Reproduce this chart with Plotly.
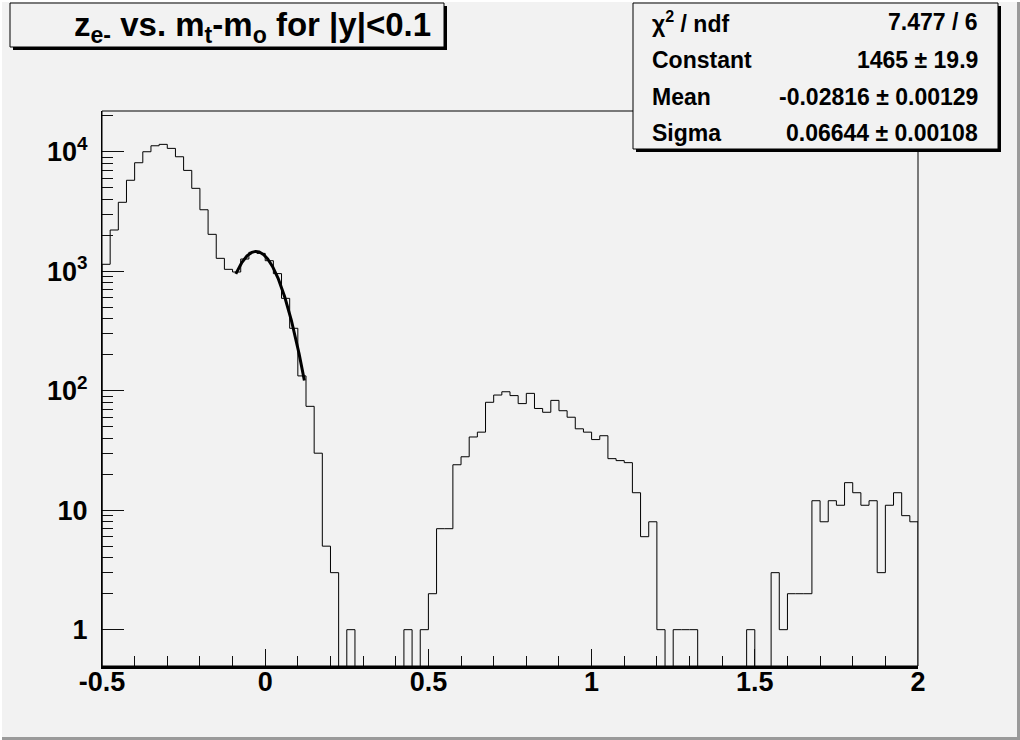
import numpy as np
import plotly.graph_objects as go

# ---------------- data ----------------
bin_lo = -0.5
bin_width = 0.025
counts = [
    1143, 2213, 3775, 5770, 8090, 10000, 11220, 11530, 10670, 9080,
    6980, 4940, 3270, 2036, 1282, 1037, 985, 1265, 1440, 1410,
    1225, 955, 593, 333, 133, 74, 30, 5, 3, 0,
    1, 0, 0, 0, 0, 0, 0, 1, 0, 1,
    2, 7, 7, 24, 28, 41, 45, 80, 92, 98,
    91, 78, 95, 71, 66, 83, 68, 60, 48, 45,
    39, 42, 27, 26, 25, 14, 6, 8, 1, 0,
    1, 1, 1, 0, 0, 0, 0, 0, 0, 1,
    0, 0, 3, 1, 2, 2, 2, 12, 8, 12,
    11, 17, 14, 11, 12, 3, 11, 14, 9, 8,
]
assert len(counts) == 100

fit_constant = 1465.0
fit_mean = -0.02816
fit_sigma = 0.06644
fit_range = (-0.09, 0.12)

x_tick_vals = [-0.5, 0, 0.5, 1, 1.5, 2]
x_tick_text = ["-0.5", "0", "0.5", "1", "1.5", "2"]
y_tick_vals = [1, 10, 100, 1000, 10000]
y_tick_text = ["1", "10", "10<sup>2</sup>", "10<sup>3</sup>", "10<sup>4</sup>"]
y_minor_vals = [m * 10 ** d for d in range(0, 5) for m in range(2, 10)]

title_text = "z<sub>e-</sub> vs. m<sub>t</sub>-m<sub>o</sub> for |y|&lt;0.1"
stats_labels = ["χ<sup>2</sup> / ndf", "Constant", "Mean", "Sigma"]
stats_values = ["7.477 / 6", "1465 ± 19.9", "-0.02816 ± 0.00129", "0.06644 ± 0.00108"]

# ---------------- geometry ----------------
W, H = 1020, 740
L, R, T, B = 102, 102, 111, 74
PW, PH = W - L - R, H - T - B
BG = "#f2f2f2"
FONT = "Liberation Sans"
TICKC = "rgb(16,16,16)"
TICKW = 1


def fx(px):
    return (px - L) / PW


def fy(py):
    return 1 - (py - T) / PH


edges = [bin_lo + i * bin_width for i in range(len(counts) + 1)]
floor = 0.02
plot_counts = [c if c > 0 else floor for c in counts]
step_x = [edges[0]] + edges + [edges[-1]]
step_y = [floor] + plot_counts + [plot_counts[-1]] + [floor]

xf = np.linspace(fit_range[0], fit_range[1], 300)
yf = fit_constant * np.exp(-0.5 * ((xf - fit_mean) / fit_sigma) ** 2)

fig = go.Figure()
fig.add_trace(go.Scatter(x=step_x, y=step_y, mode="lines", line=dict(color="black", width=1, shape="hv"),
                         showlegend=False, hoverinfo="skip"))
fig.add_trace(go.Scatter(x=xf, y=yf, mode="lines", line=dict(color="black", width=3),
                         showlegend=False, hoverinfo="skip"))

tickfont = dict(family=FONT, size=27, color="black", weight="bold")

fig.update_layout(
    width=W, height=H,
    margin=dict(l=L, r=R, t=T, b=B, pad=0),
    paper_bgcolor=BG, plot_bgcolor=BG,
    showlegend=False,
    xaxis=dict(
        range=[-0.5, 2], showgrid=False, zeroline=False,
        showline=True, linecolor="black", linewidth=2.5,
        ticks="inside", ticklen=17, tickwidth=TICKW, tickcolor=TICKC,
        tickmode="array", tickvals=x_tick_vals, ticktext=x_tick_text,
        tickfont=tickfont, ticklabelstandoff=-10,
        minor=dict(tickmode="linear", tick0=-0.5, dtick=0.1, ticks="inside", ticklen=10,
                   tickwidth=TICKW, tickcolor=TICKC, showgrid=False),
    ),
    yaxis=dict(
        type="log", range=[-0.304, 4.341], showgrid=False, zeroline=False,
        showline=True, linecolor="black", linewidth=1,
        ticks="inside", ticklen=22, tickwidth=TICKW, tickcolor=TICKC,
        tickmode="array", tickvals=y_tick_vals, ticktext=y_tick_text,
        tickfont=tickfont, ticklabelstandoff=8,
        minor=dict(tickmode="array", tickvals=y_minor_vals, ticks="inside", ticklen=11,
                   tickwidth=TICKW, tickcolor=TICKC, showgrid=False),
    ),
)

shapes = []
# plot frame (top / right thin lines)
shapes.append(dict(type="rect", xref="paper", yref="paper", x0=0, x1=1, y0=0, y1=1,
                   line=dict(color="black", width=1), fillcolor="rgba(0,0,0,0)", layer="above"))
# canvas bevel
shapes.append(dict(type="line", xref="paper", yref="paper", x0=fx(0), x1=fx(W), y0=fy(H - 1.5), y1=fy(H - 1.5),
                   line=dict(color="#9a9a9a", width=3), layer="above"))
shapes.append(dict(type="line", xref="paper", yref="paper", x0=fx(W - 1.5), x1=fx(W - 1.5), y0=fy(0), y1=fy(H),
                   line=dict(color="#9a9a9a", width=3), layer="above"))
shapes.append(dict(type="line", xref="paper", yref="paper", x0=fx(0), x1=fx(W), y0=fy(1), y1=fy(1),
                   line=dict(color="#ffffff", width=2), layer="above"))
shapes.append(dict(type="line", xref="paper", yref="paper", x0=fx(1), x1=fx(1), y0=fy(0), y1=fy(H),
                   line=dict(color="#ffffff", width=2), layer="above"))


def pave(x0, y0, x1, y1, sh=3):
    shapes.append(dict(type="rect", xref="paper", yref="paper", x0=fx(x0 + sh), x1=fx(x1 + sh),
                       y0=fy(y1 + sh), y1=fy(y0 + sh), line=dict(width=0), fillcolor="black", layer="above"))
    shapes.append(dict(type="rect", xref="paper", yref="paper", x0=fx(x0), x1=fx(x1),
                       y0=fy(y1), y1=fy(y0), line=dict(color="black", width=1), fillcolor=BG, layer="above"))


pave(10, 3, 444, 47)
pave(633, 3, 998, 149)
fig.update_layout(shapes=shapes)

ann = []
ann.append(dict(xref="paper", yref="paper", x=fx(433), y=fy(27), xanchor="right", yanchor="middle",
                text=title_text, showarrow=False,
                font=dict(family=FONT, size=33, color="black", weight="bold")))
row_y = [22, 60, 97, 133]
for lab, val, yy in zip(stats_labels, stats_values, row_y):
    ann.append(dict(xref="paper", yref="paper", x=fx(650), y=fy(yy), xanchor="left", yanchor="middle",
                    text=lab, showarrow=False,
                    font=dict(family=FONT, size=23, color="black", weight="bold")))
    ann.append(dict(xref="paper", yref="paper", x=fx(980), y=fy(yy), xanchor="right", yanchor="middle",
                    text=val, showarrow=False,
                    font=dict(family=FONT, size=23, color="black", weight="bold")))
fig.update_layout(annotations=ann)

fig.write_html("out.html", config={"displayModeBar": False},
               post_script="document.body.style.margin='0px';document.body.style.overflow='hidden';")
